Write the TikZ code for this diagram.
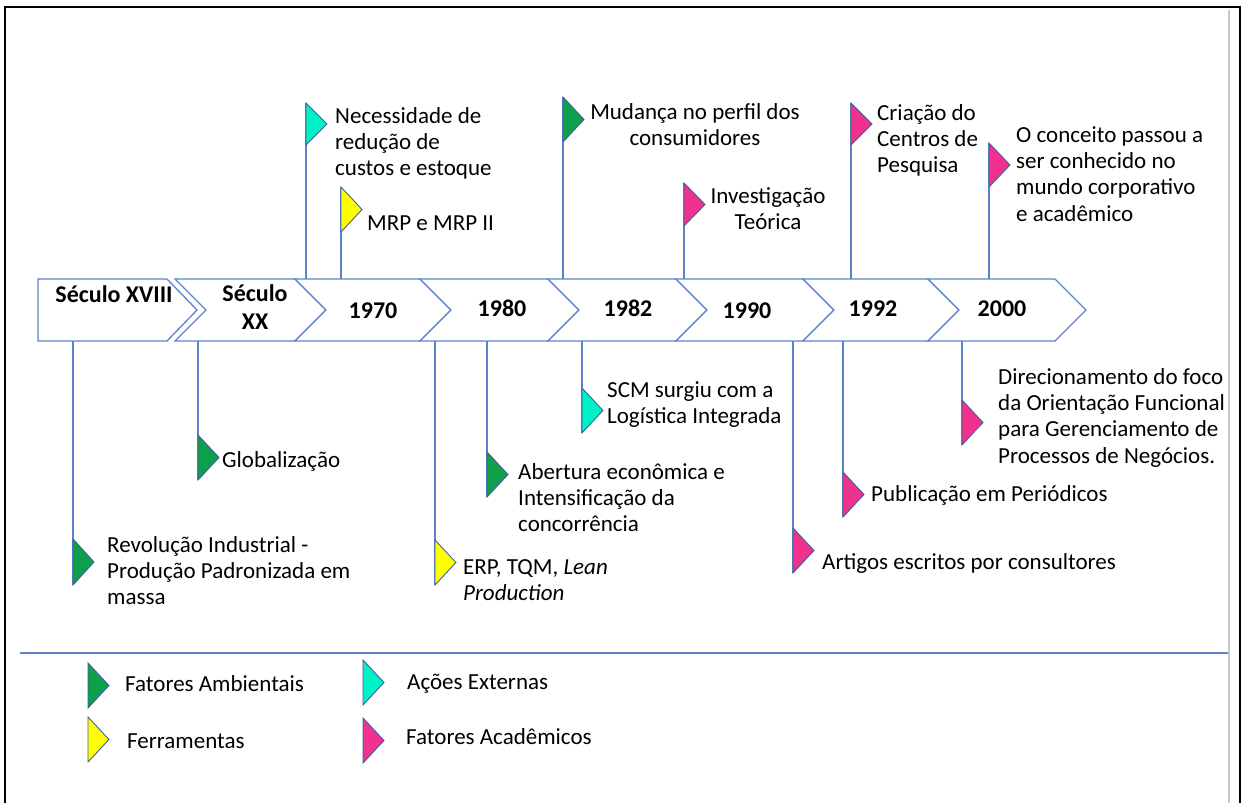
\documentclass[tikz,border=0pt]{standalone}
\usepackage{fontspec}
\setmainfont{Carlito}

\definecolor{tlblue}{HTML}{5B84CB}
\definecolor{tledge}{HTML}{41609E}
\definecolor{fgreen}{HTML}{0E9F4B}
\definecolor{fcyan}{HTML}{00F0C8}
\definecolor{fyellow}{HTML}{FFFF00}
\definecolor{fpink}{HTML}{F0318E}

\tikzset{
  chev/.style={draw=tlblue, line width=1.3pt, fill=white, line join=miter},
  stem/.style={draw=tlblue, line width=1.3pt},
  pennant/.style={draw=tledge, line width=0.9pt, line join=miter},
  lbl/.style={font=\fontsize{23}{26.3}\selectfont, inner sep=0pt, align=left, anchor=north west},
  clbl/.style={lbl, align=center, anchor=north},
  yr/.style={font=\fontsize{24}{28}\selectfont\bfseries, inner sep=0pt, anchor=base},
}

% invisible strut giving every first line the same top
\newcommand\topline{\rule{0pt}{17pt}}

% pennant: name, x, top of triangle, bottom of triangle, colour
\newcommand\tlpennant[5]{%
  \draw[pennant, fill=#5] (#2,#3) -- (#2+21,{(#3+#4)/2}) -- (#2,#4) -- cycle;
}

\begin{document}
\begin{tikzpicture}[x=1pt,y=-1pt]
\useasboundingbox (0,0) rectangle (1245,803);

% outer frame and page edge
\draw[line width=2.4pt] (5,803) -- (5,7) -- (1240,7) -- (1240,803);
\draw[line width=1.5pt, black!22] (1229,10) -- (1229,803);

% edges of the timeline band
\coordinate (ttop) at (0,279);
\coordinate (tbot) at (0,341);

% timeline: first block and chevrons
\draw[chev] (38,279) -- (167,279) -- (197,310) -- (167,341) -- (38,341) -- cycle;
\foreach \a/\b in {175/295, 295/420, 420/548, 548/676, 676/803, 803/928, 928/1055}
  \draw[chev] (\a,279) -- (\b,279) -- (\b+31,310) -- (\b,341) -- (\a,341) -- (\a+31,310) -- cycle;

% period labels
\node[yr] (p1) at (114,302) {Século XVIII};
\node[yr, align=center, anchor=north] (p2) at (255,284) {\topline Século\\XX};
\node[yr] (p3) at (373,318) {1970};
\node[yr] (p4) at (502,316) {1980};
\node[yr] (p5) at (628,316) {1982};
\node[yr] (p6) at (747,318) {1990};
\node[yr] (p7) at (873,316) {1992};
\node[yr] (p8) at (1002,316) {2000};

% pennant anchor points (top ones: triangle top, bottom ones: triangle bottom)
\coordinate (fNec) at (306,103);
\coordinate (fMrp) at (341,187);
\coordinate (fMud) at (563,97);
\coordinate (fInv) at (684,183);
\coordinate (fCri) at (851,103);
\coordinate (fCon) at (989,143);
\coordinate (fRev) at (73,585);
\coordinate (fGlo) at (198,480);
\coordinate (fErp) at (435,585);
\coordinate (fAbe) at (487,497);
\coordinate (fScm) at (582,433);
\coordinate (fArt) at (793,573);
\coordinate (fPub) at (843,517);
\coordinate (fDir) at (962,445);

% stems
\foreach \f in {fNec,fMrp,fMud,fInv,fCri,fCon}
  \draw[stem] (\f) -- (\f |- ttop);
\foreach \f in {fRev,fGlo,fErp,fAbe,fScm,fArt,fPub,fDir}
  \draw[stem] (\f) -- (\f |- tbot);

% pennants
\tlpennant{fNec}{306}{103}{145}{fcyan}
\tlpennant{fMrp}{341}{187}{232}{fyellow}
\tlpennant{fMud}{563}{97}{142}{fgreen}
\tlpennant{fInv}{684}{183}{226}{fpink}
\tlpennant{fCri}{851}{103}{145}{fpink}
\tlpennant{fCon}{989}{143}{187}{fpink}
\tlpennant{fRev}{73}{539}{585}{fgreen}
\tlpennant{fGlo}{198}{435}{480}{fgreen}
\tlpennant{fErp}{435}{540}{585}{fyellow}
\tlpennant{fAbe}{487}{452}{497}{fgreen}
\tlpennant{fScm}{582}{388}{433}{fcyan}
\tlpennant{fArt}{793}{528}{573}{fpink}
\tlpennant{fPub}{843}{472}{517}{fpink}
\tlpennant{fDir}{962}{400}{445}{fpink}

% event texts above the timeline
\node[lbl] (tNec) at (335,106) {\topline Necessidade de\\redução de\\custos e estoque};
\node[lbl] (tMrp) at (367,213) {\topline MRP e MRP II};
\node[clbl] (tMud) at (695,102) {\topline Mudança no perfil dos\\consumidores};
\node[clbl] (tInv) at (768,186) {\topline Investigação\\Teórica};
\node[lbl] (tCri) at (877,103) {\topline Criação do\\Centros de\\Pesquisa};
\node[lbl] (tCon) at (1016,125) {\topline O conceito passou a\\ser conhecido no\\mundo corporativo\\e acadêmico};

% event texts below the timeline
\node[lbl] (tRev) at (107,535) {\topline Revolução Industrial -\\Produção Padronizada em\\massa};
\node[lbl] (tGlo) at (222,450) {\topline Globalização};
\node[lbl] (tErp) at (463,557) {\topline ERP, TQM, \textit{Lean}\\\textit{Production}};
\node[lbl] (tAbe) at (518,462) {\topline Abertura econômica e\\Intensificação da\\concorrência};
\node[lbl] (tScm) at (607,380) {\topline SCM surgiu com a\\Logística Integrada};
\node[lbl] (tArt) at (822,552) {\topline Artigos escritos por consultores};
\node[lbl] (tPub) at (871,484) {\topline Publicação em Periódicos};
\node[lbl] (tDir) at (998,367) {\topline Direcionamento do foco\\da Orientação Funcional\\para Gerenciamento de\\Processos de Negócios.};

% legend
\coordinate (sepL) at (20,653);
\coordinate (sepR) at (1228,653);
\draw[stem] (sepL) -- (sepR);
\draw[pennant, fill=fgreen]  (88,663) -- (109,685.5) -- (88,708) -- cycle;
\draw[pennant, fill=fyellow] (88,717) -- (109,739.5) -- (88,762) -- cycle;
\draw[pennant, fill=fcyan]   (363,660) -- (384,682.5) -- (363,705) -- cycle;
\draw[pennant, fill=fpink]   (363,718) -- (384,740.5) -- (363,763) -- cycle;
\node[lbl] (l1) at (125,674) {\topline Fatores Ambientais};
\node[lbl] (l2) at (127,731) {\topline Ferramentas};
\node[lbl] (l3) at (407,672) {\topline Ações Externas};
\node[lbl] (l4) at (406,727) {\topline Fatores Acadêmicos};
\end{tikzpicture}
\end{document}
